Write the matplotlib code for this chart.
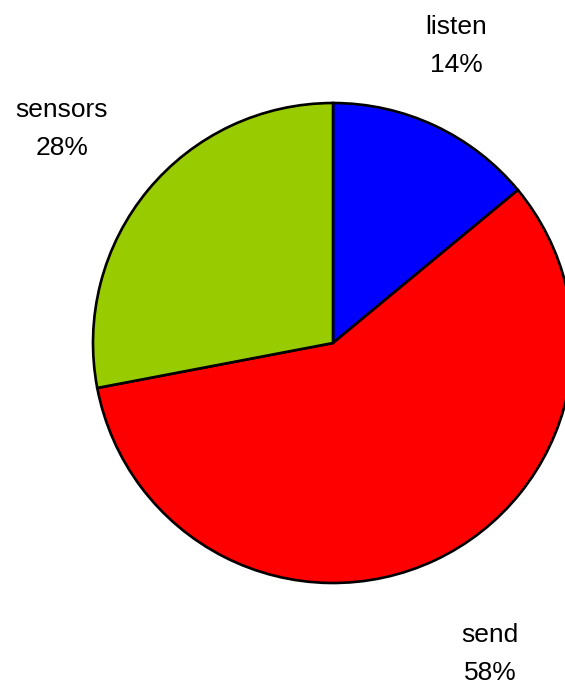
import matplotlib.pyplot as plt

labels = ['listen', 'send', 'sensors']
shares = [14, 58, 28]
colors = ['#0000ff', '#ff0000', '#99cc00']
# label x, baseline of name line (pixels)
label_pos = [(456, 34), (490, 642), (62, 117)]

W, H = 565, 684
fig = plt.figure(figsize=(W / 100, H / 100), dpi=100)
ax = fig.add_axes([0, 0, 1, 1])

# pie drawn in pixel coords; y axis inverted so go counterclockwise to appear clockwise
ax.pie(shares, colors=colors, startangle=-90, counterclock=True,
       center=(333, 343), radius=240, frame=True,
       wedgeprops=dict(edgecolor='black', linewidth=1.9))
ax.set_xlim(0, W)
ax.set_ylim(H, 0)
ax.set_aspect('auto')
ax.axis('off')

for lab, v, (x, y) in zip(labels, shares, label_pos):
    ax.text(x, y, lab, ha='center', va='baseline', fontsize=19,
            family='Liberation Sans')
    ax.text(x, y + 38, f'{v}%', ha='center', va='baseline', fontsize=19,
            family='Liberation Sans')

fig.savefig('out.png', dpi=100)
